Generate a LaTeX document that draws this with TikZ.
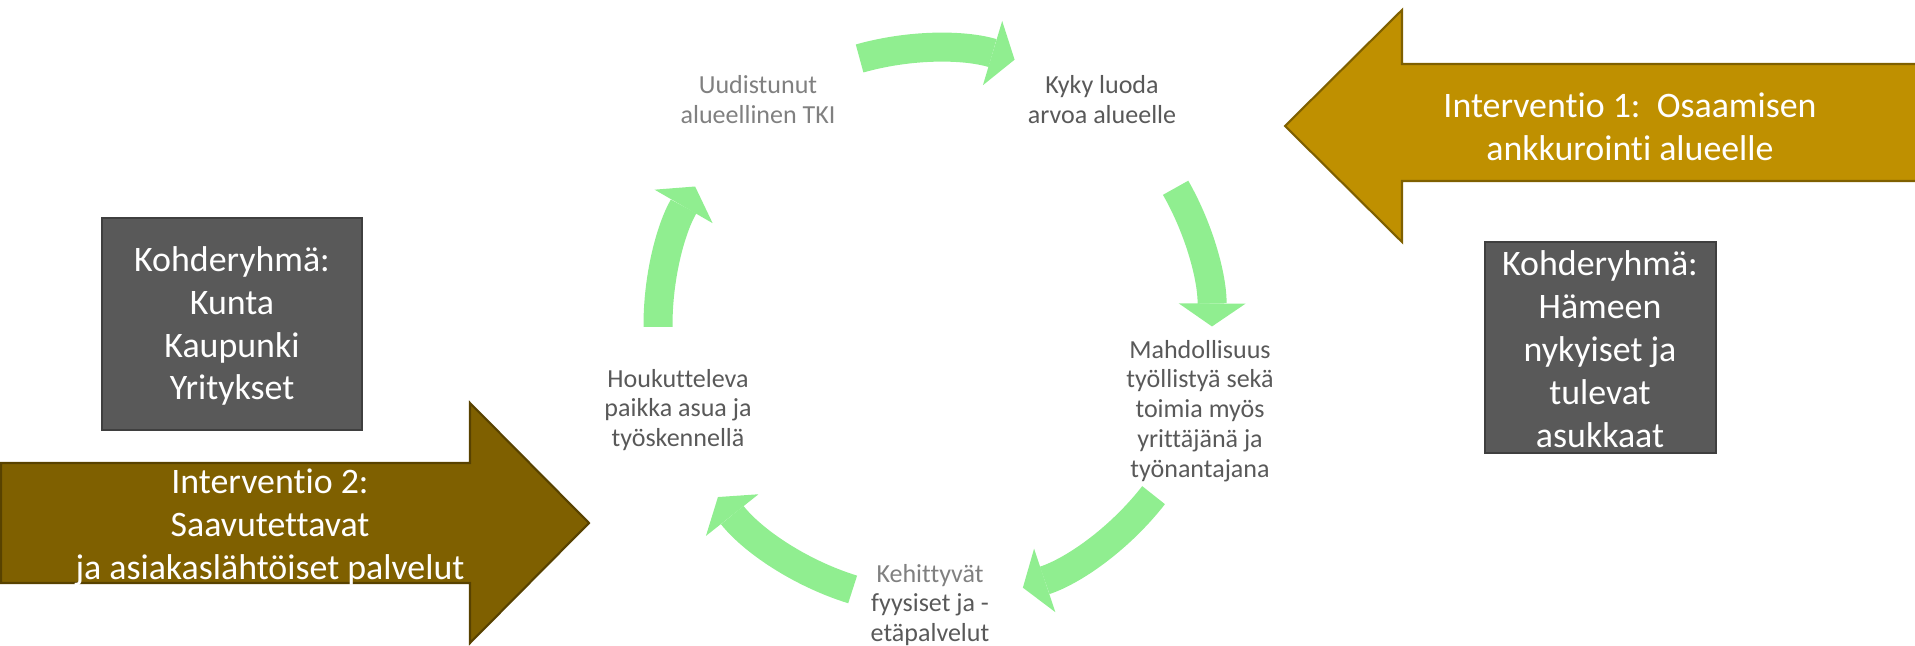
\documentclass[tikz,border=0pt]{standalone}
\usepackage{fontspec}
\setmainfont{Carlito}[Ligatures=NoCommon]
\usetikzlibrary{arrows.meta}

\definecolor{cycgreen}{HTML}{90EE90}
\definecolor{cycdark}{HTML}{595959}
\definecolor{cyclight}{HTML}{808080}
\definecolor{kohdegrey}{HTML}{595959}
\definecolor{kohdeedge}{HTML}{3F3F3F}
\definecolor{intgold}{HTML}{BF9000}
\definecolor{intgoldedge}{HTML}{7F6000}
\definecolor{intbrown}{HTML}{7F6000}
\definecolor{intbrownedge}{HTML}{584200}

\begin{document}
        \begin{tikzpicture}[x=0.01cm, y=0.01cm,
            kohde/.style={fill=kohdegrey, draw=kohdeedge, line width=0.6pt},
            bigtext/.style={text=white, align=center, inner sep=0pt, font=\fontsize{10.2}{12.2}\selectfont},
            cyctext/.style={text=cycdark, align=center, inner sep=0pt, font=\fontsize{7.4}{8.5}\selectfont},
            cycarrow/.style={draw=cycgreen, line width=0.29cm, -{Triangle[length=0.23cm, width=0.67cm, line width=0pt]}}]
            \useasboundingbox (0,0) rectangle (1915,645);

            \filldraw[fill=intgold, draw=intgoldedge, line width=0.6pt] (1285,519) -- (1402,635) -- (1402,581) -- (1930,581)
                -- (1930,464) -- (1402,464) -- (1402,403) -- cycle;
            \filldraw[fill=intbrown, draw=intbrownedge, line width=0.6pt] (1,182) -- (470,182) -- (470,242) -- (589,122)
                -- (470,2) -- (470,62) -- (1,62) -- cycle;
            \node[bigtext] (int1) at (1630,518) {Interventio 1:\ \ Osaamisen\\ankkurointi alueelle};
            \node[bigtext] (int2) at (270,118) {Interventio 2:\\Saavutettavat\\ja asiakaslähtöiset palvelut};

            \filldraw[kohde] (102,215) rectangle (362,427);
            \filldraw[kohde] (1485,192) rectangle (1716,403);
            \node[bigtext] (kunta) at (232,319) {Kohderyhmä:\\Kunta\\Kaupunki\\Yritykset};
            \node[bigtext] (hame) at (1600,296) {Kohderyhmä:\\Hämeen\\nykyiset ja\\tulevat\\asukkaat};

            \coordinate (c) at (935,320);
            \node[cyctext, text=cyclight] (tki) at (758,545) {Uudistunut\\alueellinen TKI};
            \node[cyctext] (kyky) at (1102,545) {Kyky luoda\\arvoa alueelle};
            \node[cyctext] (tyo) at (1200,234) {Mahdollisuus\\työllistyä sekä\\toimia myös\\yrittäjänä ja\\työnantajana};
            \node[cyctext] (palv) at (930,40) {\textcolor{cyclight}{Kehittyvät}\\fyysiset ja -\\etäpalvelut};
            \node[cyctext] (paikka) at (678,235) {Houkutteleva\\paikka asua ja\\työskennellä};

            \draw[cycarrow] ([shift={(105.8:277)}]c) arc[start angle=105.8, end angle=73.3, radius=277];
            \draw[cycarrow] ([shift={(29.7:277)}]c) arc[start angle=29.7, end angle=-0.3, radius=277];
            \draw[cycarrow] ([shift={(-37.9:277)}]c) arc[start angle=-37.9, end angle=-71.5, radius=277];
            \draw[cycarrow] ([shift={(-107.3:277)}]c) arc[start angle=-107.3, end angle=-141.6, radius=277];
            \draw[cycarrow] ([shift={(180.4:277)}]c) arc[start angle=180.4, end angle=150, radius=277];
        \end{tikzpicture}
\end{document}
